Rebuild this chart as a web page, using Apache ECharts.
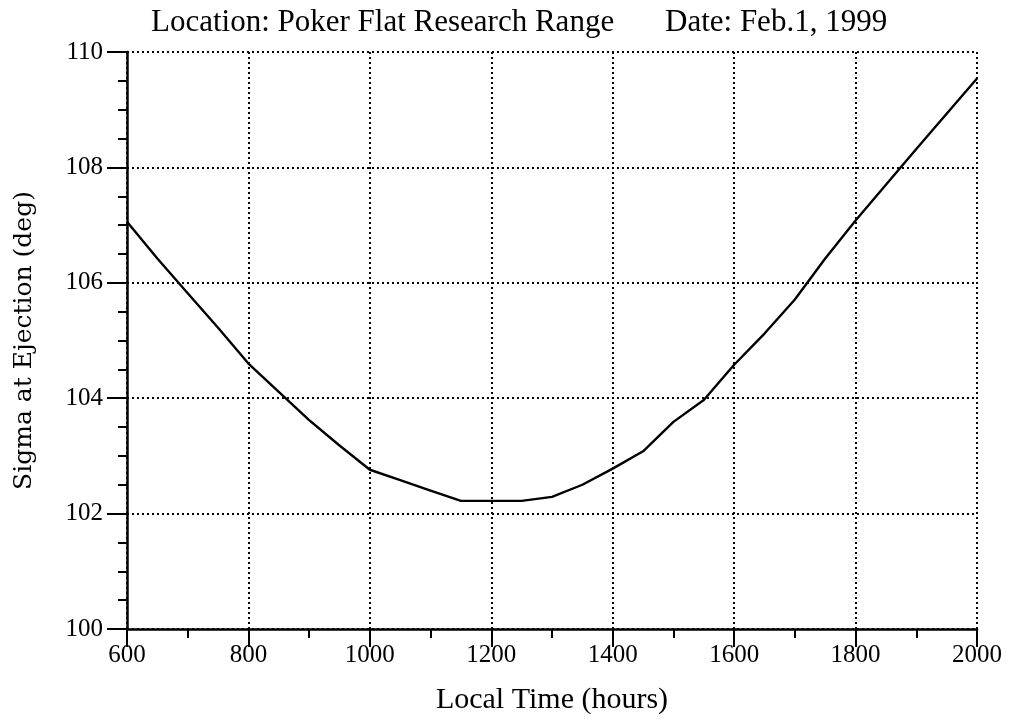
<!DOCTYPE html>
<html>
<head>
<meta charset="utf-8">
<title>Sigma at Ejection</title>
<script src="https://cdn.jsdelivr.net/npm/echarts@6/dist/echarts.min.js"></script>
<style>
  html, body { margin: 0; padding: 0; background: #fff; }
  #chart { width: 1010px; height: 724px; }
</style>
</head>
<body>
<div id="chart"></div>
<script>
// local time (hours), every 50
var hours = [600, 650, 700, 750, 800, 850, 900, 950, 1000, 1050, 1100, 1150, 1200, 1250, 1300,
  1350, 1400, 1450, 1500, 1550, 1600, 1650, 1700, 1750, 1800, 1850, 1900, 1950, 2000]
// sigma at ejection (deg)
var sigma = [107.06, 106.42, 105.82, 105.22, 104.6, 104.11, 103.62, 103.18, 102.76, 102.58, 102.4,
  102.22, 102.22, 102.22, 102.29, 102.5, 102.78, 103.08, 103.59, 103.97, 104.58, 105.12, 105.71,
  106.42, 107.08, 107.7, 108.32, 108.93, 109.54]

var titleLeft = 'Location: Poker Flat Research Range'
var titleRight = 'Date: Feb.1, 1999'

var serif = 'Liberation Serif'
var points = hours.map(function (h, i) { return [h, sigma[i]] })

var myChart = echarts.init(document.getElementById('chart'))
var option = {
  backgroundColor: '#fff',
  animation: false,
  title: [
    { text: titleLeft, left: 146, top: 2,
      textStyle: { fontFamily: serif, fontSize: 31, fontWeight: 'normal', color: '#000' } },
    { text: titleRight, left: 660, top: 2,
      textStyle: { fontFamily: serif, fontSize: 31, fontWeight: 'normal', color: '#000' } }
  ],
  grid: { left: 127, right: 33, top: 52, bottom: 95 },
  xAxis: {
    type: 'value',
    min: 600,
    max: 2000,
    interval: 200,
    name: 'Local Time (hours)',
    nameLocation: 'middle',
    nameGap: 56,
    nameTextStyle: { fontFamily: serif, fontSize: 30, color: '#000' },
    axisLine: { lineStyle: { color: '#000', width: 2.5 } },
    axisTick: { length: 18, lineStyle: { color: '#000', width: 2 } },
    minorTick: { show: true, splitNumber: 2, length: 9, lineStyle: { color: '#000', width: 2 } },
    axisLabel: {
      margin: 14, fontFamily: serif, fontSize: 25, color: '#000',
      formatter: function (v) { return String(v) }
    },
    splitLine: { show: true, lineStyle: { color: '#000', width: 2, type: [2, 3] } }
  },
  yAxis: {
    type: 'value',
    min: 100,
    max: 110,
    interval: 2,
    name: 'Sigma at Ejection (deg)',
    nameLocation: 'middle',
    nameGap: 90,
    nameTextStyle: { fontFamily: 'DejaVu Serif', fontSize: 25, color: '#000' },
    axisLine: { show: true, lineStyle: { color: '#000', width: 2.5 } },
    axisTick: { length: 20, lineStyle: { color: '#000', width: 2 } },
    minorTick: { show: true, splitNumber: 4, length: 9, lineStyle: { color: '#000', width: 2 } },
    axisLabel: {
      margin: 24, fontFamily: serif, fontSize: 25, color: '#000',
      formatter: function (v) { return String(v) }
    },
    splitLine: { show: true, lineStyle: { color: '#000', width: 2, type: [2, 3] } }
  },
  series: [
    {
      type: 'line',
      data: points,
      symbol: 'none',
      lineStyle: { color: '#000', width: 2.4 }
    }
  ]
}
myChart.setOption(option)
</script>
</body>
</html>
